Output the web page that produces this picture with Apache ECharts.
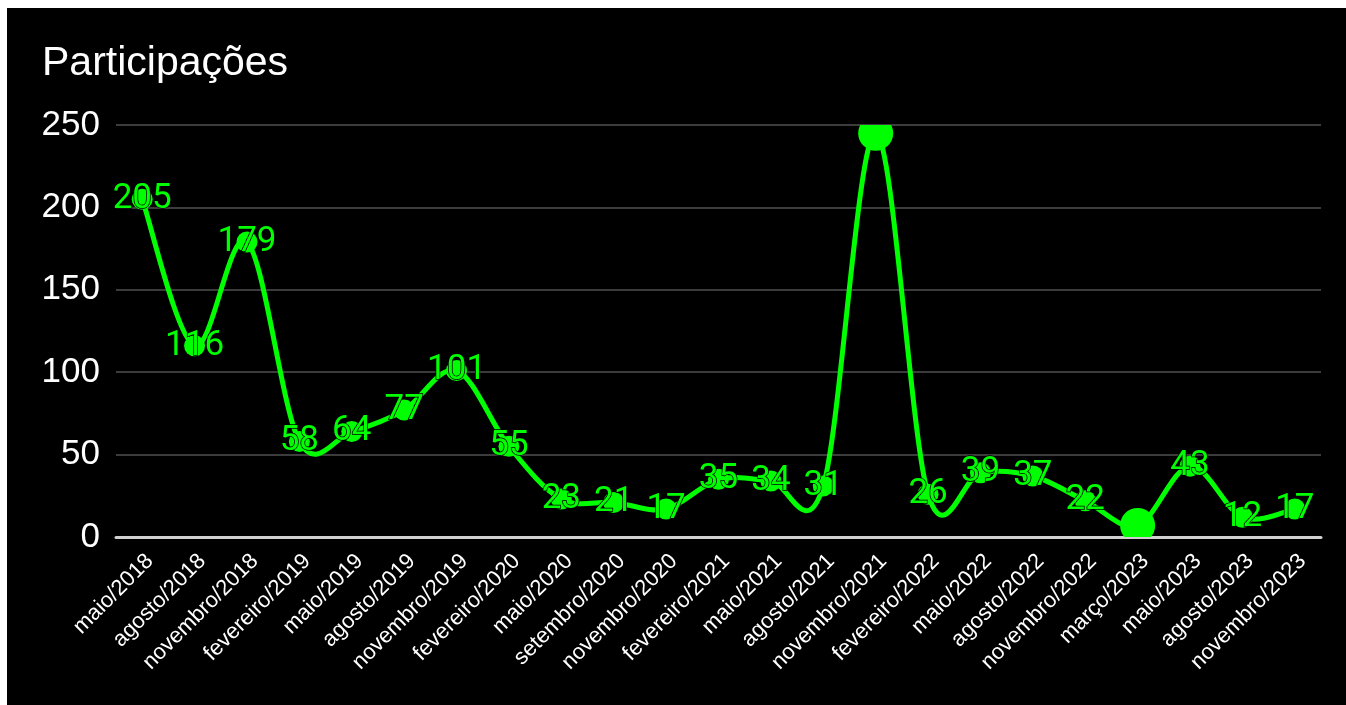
<!DOCTYPE html>
<html>
<head>
<meta charset="utf-8">
<script src="https://cdn.jsdelivr.net/npm/echarts@6/dist/echarts.min.js"></script>
<style>
  html, body { margin: 0; padding: 0; background: #ffffff; overflow: hidden; width: 1346px; height: 705px; }
  #chart { position: absolute; left: 7px; top: 8px; width: 1346px; height: 705px; background: #000000; }
</style>
</head>
<body>
<div id="chart"></div>
<script>
const categories = [
  'maio/2018', 'agosto/2018', 'novembro/2018', 'fevereiro/2019', 'maio/2019',
  'agosto/2019', 'novembro/2019', 'fevereiro/2020', 'maio/2020', 'setembro/2020',
  'novembro/2020', 'fevereiro/2021', 'maio/2021', 'agosto/2021', 'novembro/2021',
  'fevereiro/2022', 'maio/2022', 'agosto/2022', 'novembro/2022', 'março/2023',
  'maio/2023', 'agosto/2023', 'novembro/2023'
];
const participacoes = [205, 116, 179, 58, 64, 77, 101, 55, 23, 21, 17, 35, 34, 31, 245, 26, 39, 37, 22, 7, 43, 12, 17];
const highlighted = ['novembro/2021', 'março/2023'];
const yTicks = { min: 0, max: 250, interval: 50 };
const titleText = 'Participações';

const GREEN = '#00ff00';
const chart = echarts.init(document.getElementById('chart'));

const lineData = participacoes.map((v, i) => {
  if (highlighted.indexOf(categories[i]) >= 0) {
    return { value: v, symbolSize: 0, label: { show: false } };
  }
  return v;
});
const bigData = highlighted.map(c => {
  const i = categories.indexOf(c);
  return [i, participacoes[i]];
});

// Catmull-Rom spline through all points, computed in pixel space via the axes
function renderSpline(params, api) {
  if (params.dataIndex !== 0) return null;
  const pts = participacoes.map((v, i) => api.coord([i, v]));
  const n = pts.length;
  const children = [];
  for (let i = 0; i < n - 1; i++) {
    const p0 = pts[Math.max(i - 1, 0)];
    const p1 = pts[i];
    const p2 = pts[i + 1];
    const p3 = pts[Math.min(i + 2, n - 1)];
    children.push({
      type: 'bezierCurve',
      shape: {
        x1: p1[0], y1: p1[1],
        cpx1: p1[0] + (p2[0] - p0[0]) / 6, cpy1: p1[1] + (p2[1] - p0[1]) / 6,
        cpx2: p2[0] - (p3[0] - p1[0]) / 6, cpy2: p2[1] - (p3[1] - p1[1]) / 6,
        x2: p2[0], y2: p2[1]
      },
      style: { stroke: GREEN, lineWidth: 5, fill: null, lineCap: 'round', lineJoin: 'round' }
    });
  }
  return { type: 'group', children: children };
}

chart.setOption({
  backgroundColor: '#000000',
  animation: false,
  title: {
    text: titleText,
    left: 30,
    top: 30,
    textStyle: { color: '#ffffff', fontSize: 41, fontWeight: 'normal', fontFamily: 'Liberation Sans, Arial, sans-serif' }
  },
  grid: { left: 109, top: 117, width: 1205, height: 412, containLabel: false },
  xAxis: {
    type: 'category',
    data: categories,
    boundaryGap: true,
    axisLine: { show: true, lineStyle: { color: '#d0d0d0', width: 3 } },
    axisTick: { show: false },
    axisLabel: {
      interval: 0,
      rotate: 45,
      color: '#ffffff',
      fontSize: 22,
      margin: 13,
      align: 'right',
      verticalAlign: 'top',
      fontFamily: 'Liberation Sans, Arial, sans-serif'
    },
    splitLine: { show: false }
  },
  yAxis: {
    type: 'value',
    min: yTicks.min,
    max: yTicks.max,
    interval: yTicks.interval,
    axisLine: { show: false },
    axisTick: { show: false },
    axisLabel: { color: '#ffffff', fontSize: 35, margin: 16, fontFamily: 'Liberation Sans, Arial, sans-serif' },
    splitLine: { lineStyle: { color: '#3c3c3c', width: 2 } }
  },
  series: [
    {
      type: 'custom',
      clip: true,
      z: 2,
      data: [[0, participacoes[0]]],
      renderItem: renderSpline,
      silent: true
    },
    {
      type: 'custom',
      clip: true,
      z: 3,
      data: bigData,
      renderItem: function (params, api) {
        const p = api.coord([api.value(0), api.value(1)]);
        return { type: 'circle', shape: { cx: p[0], cy: p[1], r: 17.5 }, style: { fill: GREEN } };
      }
    },
    {
      type: 'line',
      z: 4,
      data: lineData,
      symbol: 'circle',
      symbolSize: 21,
      showAllSymbol: true,
      clip: true,
      lineStyle: { opacity: 0, width: 0 },
      itemStyle: { color: GREEN, borderWidth: 0 },
      label: {
        show: true,
        position: 'inside',
        color: GREEN,
        fontSize: 35,
        fontFamily: 'Roboto, Liberation Sans, Arial, sans-serif',
        textBorderColor: '#000000',
        textBorderWidth: 1.5
      },
      labelLayout: { hideOverlap: false }
    }
  ]
});
</script>
</body>
</html>
